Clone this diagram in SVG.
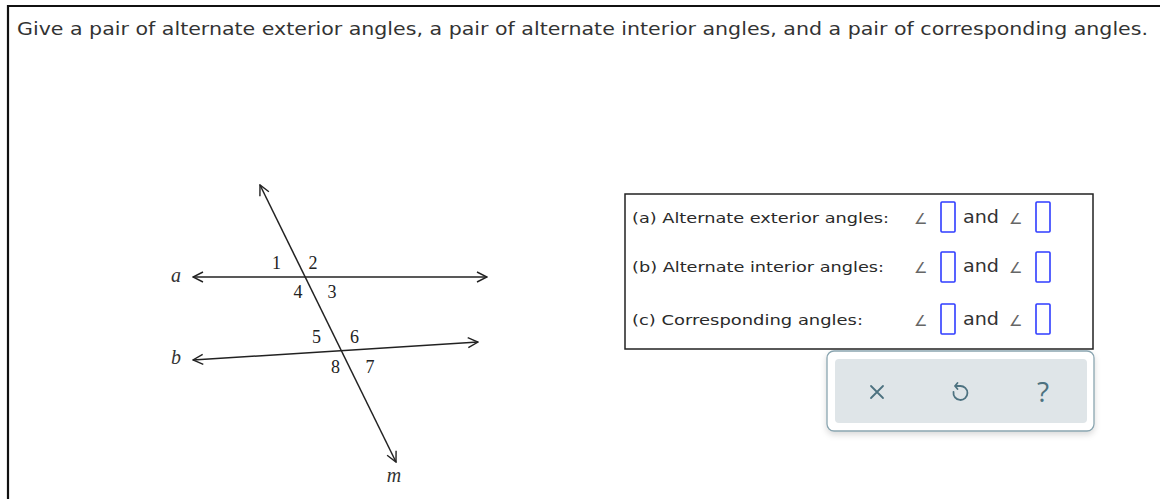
<svg xmlns="http://www.w3.org/2000/svg" width="1160" height="499" viewBox="0 0 1160 499">
<style>
.title{font-family:"DejaVu Sans","Verdana",sans-serif;font-size:17px;fill:#333}
.lbl{font-family:"DejaVu Sans","Verdana",sans-serif;font-size:14px;fill:#2a2a2a}
.and{font-family:"DejaVu Sans","Verdana",sans-serif;font-size:17px;fill:#333}
.ang{font-family:"DejaVu Sans",sans-serif;font-size:15px;fill:#666}
.num{font-family:"Liberation Serif","Times New Roman",serif;font-size:18px;fill:#222;text-anchor:middle}
.var{font-family:"Liberation Serif","Times New Roman",serif;font-size:20px;font-style:italic;fill:#333;text-anchor:middle}
.ln{stroke:#222;stroke-width:1.5;fill:none}
.inp{fill:#fff;stroke:#2f3cff;stroke-width:1.6}
.ico{stroke:#4d7280;stroke-width:1.8;fill:none;stroke-linecap:round;stroke-linejoin:round}
</style>
<defs>
<marker id="arr" viewBox="0 0 12 12" refX="11" refY="6" markerWidth="12" markerHeight="12" markerUnits="userSpaceOnUse" orient="auto-start-reverse">
<path d="M1,1 L11,6 L1,11" fill="none" stroke="#222" stroke-width="1.4"/>
</marker>
<filter id="sh" x="-10%" y="-20%" width="120%" height="150%">
<feDropShadow dx="0" dy="3" stdDeviation="3" flood-color="#000" flood-opacity="0.15"/>
</filter>
</defs>
<rect width="1160" height="499" fill="#fff"/>
<path d="M8,499 V6 H1160" fill="none" stroke="#111" stroke-width="2.2"/>
<text class="title" x="17" y="35" textLength="1131" lengthAdjust="spacingAndGlyphs">Give a pair of alternate exterior angles, a pair of alternate interior angles, and a pair of corresponding angles.</text>

<g id="connectors">
<line class="ln" x1="193" y1="277" x2="487" y2="277" marker-start="url(#arr)" marker-end="url(#arr)"/>
<line class="ln" x1="193" y1="360" x2="478" y2="342" marker-start="url(#arr)" marker-end="url(#arr)"/>
<line class="ln" x1="260" y1="185" x2="396" y2="462" marker-start="url(#arr)" marker-end="url(#arr)"/>
</g>
<g id="figure-labels">
<text class="var" x="176" y="282">a</text>
<text class="var" x="176" y="364">b</text>
<text class="var" x="394" y="482">m</text>
<text class="num" x="276.5" y="269">1</text>
<text class="num" x="313" y="269">2</text>
<text class="num" x="298" y="298">4</text>
<text class="num" x="332" y="298">3</text>
<text class="num" x="316.5" y="343">5</text>
<text class="num" x="354.5" y="343">6</text>
<text class="num" x="335.5" y="373">8</text>
<text class="num" x="370" y="373">7</text>
</g>

<g id="answer-box">
<rect x="625" y="194" width="468" height="155" fill="#fff" stroke="#222" stroke-width="1.5"/>
<text class="lbl" x="632" y="223" textLength="257" lengthAdjust="spacingAndGlyphs">(a) Alternate exterior angles:</text>
<text class="lbl" x="632" y="272" textLength="252" lengthAdjust="spacingAndGlyphs">(b) Alternate interior angles:</text>
<text class="lbl" x="632" y="325" textLength="231" lengthAdjust="spacingAndGlyphs">(c) Corresponding angles:</text>
<g id="row-a">
<text class="ang" x="914" y="224">∠</text>
<rect class="inp" x="941" y="202" width="14" height="30" rx="1"/>
<text class="and" x="963" y="223" textLength="36" lengthAdjust="spacingAndGlyphs">and</text>
<text class="ang" x="1009" y="224">∠</text>
<rect class="inp" x="1036" y="202" width="14" height="30" rx="1"/>
</g>
<g id="row-b">
<text class="ang" x="914" y="273">∠</text>
<rect class="inp" x="941" y="252" width="14" height="30" rx="1"/>
<text class="and" x="963" y="272" textLength="36" lengthAdjust="spacingAndGlyphs">and</text>
<text class="ang" x="1009" y="273">∠</text>
<rect class="inp" x="1036" y="252" width="14" height="30" rx="1"/>
</g>
<g id="row-c">
<text class="ang" x="914" y="326">∠</text>
<rect class="inp" x="941" y="304" width="14" height="30" rx="1"/>
<text class="and" x="963" y="325" textLength="36" lengthAdjust="spacingAndGlyphs">and</text>
<text class="ang" x="1009" y="326">∠</text>
<rect class="inp" x="1036" y="304" width="14" height="30" rx="1"/>
</g>
</g>

<g id="buttons">
<rect x="827" y="351" width="267" height="80" rx="7" fill="#fff" stroke="#8aa5b0" stroke-width="1.3" filter="url(#sh)"/>
<rect x="835" y="359" width="252" height="64" rx="4" fill="#dfe5e8"/>
<path class="ico" d="M871,386 L883,398 M883,386 L871,398"/>
<path class="ico" d="M953.5,392 A7,7 0 1 0 960,386 L955,386 M957.5,383 L955,386 L957.5,389"/>
<text x="1043" y="402" text-anchor="middle" font-family="'Open Sans',Lato,sans-serif" font-weight="400" font-size="28" fill="#4d7280">?</text>
</g>
</svg>
